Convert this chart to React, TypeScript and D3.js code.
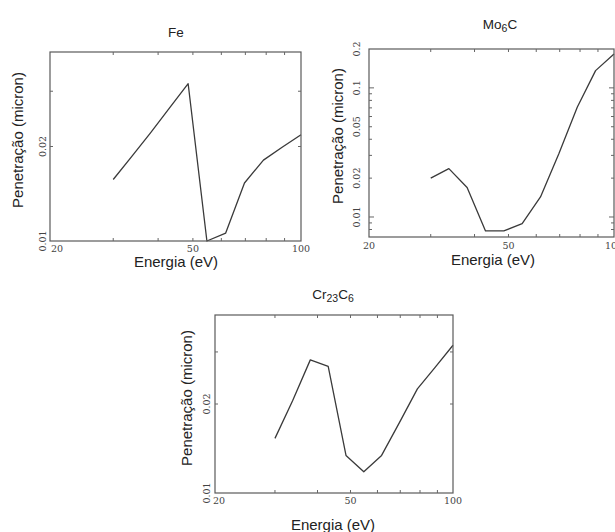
import React, { useEffect, useRef } from 'react';
import * as d3 from 'd3';

// energies (eV), same grid for all three materials
const energy = [30, 33.8, 38.1, 43.0, 48.5, 54.7, 61.7, 69.6, 78.6, 88.6, 100];

// penetration (micron)
const fePen = [0.0157, 0.0186, 0.0221, 0.0265, 0.0317, 0.0100, 0.0106, 0.0153, 0.0181, 0.0199, 0.0218];
const mo6cPen = [0.0200, 0.0237, 0.0169, 0.0078, 0.0078, 0.0089, 0.0143, 0.0309, 0.0710, 0.136, 0.183];
const cr23c6Pen = [0.0153, 0.0205, 0.0282, 0.0268, 0.0134, 0.0118, 0.0134, 0.0173, 0.0225, 0.0266, 0.0316];

const xTicks = [30, 40, 50, 60, 70, 80, 90];
const xTickLabels = [20, 50, 100];

const feYTicks = [0.02, 0.03];
const feYLabels = ['0.01', '0.02'];
const moYTicks = [0.008, 0.009, 0.01, 0.02, 0.03, 0.04, 0.05, 0.06, 0.07, 0.08, 0.09, 0.1];
const moYLabels = ['0.01', '0.02', '0.05', '0.1', '0.2'];
const crYTicks = [0.02, 0.03];
const crYLabels = ['0.01', '0.02'];

const panels = [
    {
        key: 'fe', title: [['Fe', false]], values: fePen, yDomain: [0.01, 0.04],
        yTicks: feYTicks, yLabels: feYLabels,
        box: { l: 50, r: 301, t: 52, b: 241 },
        titlePos: [176, 32], yLabelPos: [18, 140], yTickX: 43, xTickY: 249, xLabelPos: [176, 262], x20dx: 7
    },
    {
        key: 'mo', title: [['Mo', false], ['6', true], ['C', false]], values: mo6cPen, yDomain: [0.007, 0.2],
        yTicks: moYTicks, yLabels: moYLabels,
        box: { l: 369, r: 614, t: 49, b: 237 },
        titlePos: [500, 24], yLabelPos: [338, 136], yTickX: 357, xTickY: 246, xLabelPos: [493, 260], x20dx: 0
    },
    {
        key: 'cr', title: [['Cr', false], ['23', true], ['C', false], ['6', true]], values: cr23c6Pen, yDomain: [0.01, 0.04],
        yTicks: crYTicks, yLabels: crYLabels,
        box: { l: 215, r: 453, t: 315, b: 493 },
        titlePos: [333, 294], yLabelPos: [187, 398], yTickX: 207, xTickY: 501, xLabelPos: [333, 525], x20dx: 4
    }
];

const App = () => {
    const svgRef = useRef(null);

    useEffect(() => {
        const svg = d3.select(svgRef.current);
        svg.selectAll('*').remove();

        panels.forEach(p => {
            const { l, r, t, b } = p.box;
            const x = d3.scaleLog().domain([20, 100]).range([l, r]);
            const y = d3.scaleLog().domain(p.yDomain).range([b, t]);
            const g = svg.append('g');

            // Title with subscripts
            const title = g.append('text')
                .attr('x', p.titlePos[0])
                .attr('y', p.titlePos[1])
                .attr('dy', '0.35em')
                .attr('text-anchor', 'middle')
                .style('font-family', 'Liberation Sans, Arial, sans-serif')
                .style('font-size', '13.5px')
                .style('fill', '#222');
            p.title.forEach(([s, sub]) => {
                title.append('tspan')
                    .attr('baseline-shift', sub ? '-25%' : null)
                    .style('font-size', sub ? '10.5px' : null)
                    .text(s);
            });

            // Line
            const line = d3.line()
                .x((d, i) => x(energy[i]))
                .y(d => y(d));
            g.append('path')
                .datum(p.values)
                .attr('fill', 'none')
                .attr('stroke', '#3a3a3a')
                .attr('stroke-width', 1.3)
                .attr('stroke-linejoin', 'round')
                .attr('d', line);

            // Frame
            g.append('rect')
                .attr('x', l).attr('y', t)
                .attr('width', r - l).attr('height', b - t)
                .attr('fill', 'none')
                .attr('stroke', '#5a5a5a')
                .attr('stroke-width', 1.2);

            // x ticks, inward, top and bottom
            xTicks.forEach(v => {
                const xv = x(v);
                g.append('line').attr('x1', xv).attr('x2', xv).attr('y1', b).attr('y2', b - 3).attr('stroke', '#666');
                g.append('line').attr('x1', xv).attr('x2', xv).attr('y1', t).attr('y2', t + 3).attr('stroke', '#666');
            });

            // y ticks, inward, left and right
            p.yTicks.forEach(v => {
                const yv = y(v);
                const len = (v === 0.01 || v === 0.1) ? 5 : 3;
                g.append('line').attr('x1', l).attr('x2', l + len).attr('y1', yv).attr('y2', yv).attr('stroke', '#666');
                g.append('line').attr('x1', r).attr('x2', r - len).attr('y1', yv).attr('y2', yv).attr('stroke', '#666');
            });

            // x tick labels
            xTickLabels.forEach(v => {
                g.append('text')
                    .attr('x', x(v) + (v === 20 ? p.x20dx : 0))
                    .attr('y', p.xTickY)
                    .attr('dy', '0.35em')
                    .attr('text-anchor', 'middle')
                    .style('font-family', 'DejaVu Serif, serif')
                    .style('font-size', '9.5px')
                    .style('fill', '#444')
                    .text(v);
            });

            // y tick labels, rotated
            p.yLabels.forEach(s => {
                g.append('text')
                    .attr('transform', `translate(${p.yTickX},${y(+s)}) rotate(-90)`)
                    .attr('dy', '0.35em')
                    .attr('text-anchor', 'middle')
                    .style('font-family', 'DejaVu Serif, serif')
                    .style('font-size', '9.5px')
                    .style('fill', '#444')
                    .text(s);
            });

            // Axis titles
            g.append('text')
                .attr('x', p.xLabelPos[0])
                .attr('y', p.xLabelPos[1])
                .attr('dy', '0.35em')
                .attr('text-anchor', 'middle')
                .style('font-family', 'Liberation Sans, Arial, sans-serif')
                .style('font-size', '15px')
                .style('fill', '#222')
                .text('Energia (eV)');

            g.append('text')
                .attr('transform', `translate(${p.yLabelPos[0]},${p.yLabelPos[1]}) rotate(-90)`)
                .attr('dy', '0.35em')
                .attr('text-anchor', 'middle')
                .style('font-family', 'Liberation Sans, Arial, sans-serif')
                .style('font-size', '15px')
                .style('fill', '#222')
                .text('Penetração (micron)');
        });
    }, []);

    return (
        <svg
            ref={svgRef}
            width={615}
            height={532}
            style={{ position: 'absolute', left: 0, top: 0, background: '#fff' }}
        />
    );
};

export default App;
